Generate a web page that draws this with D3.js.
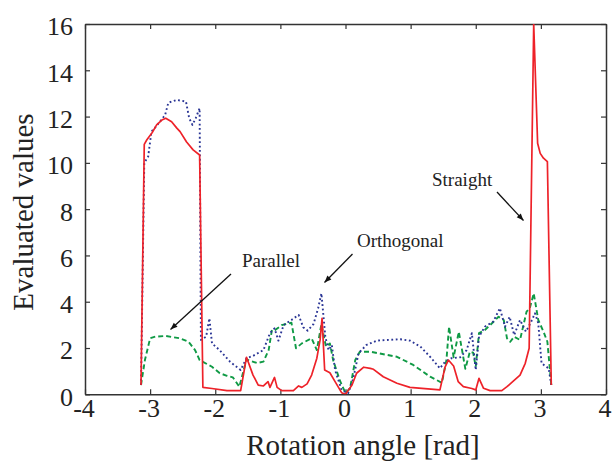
<!DOCTYPE html>
<html>
<head>
<meta charset="utf-8">
<script src="https://cdn.jsdelivr.net/npm/d3@7"></script>
<style>
html,body{margin:0;padding:0;background:#fff;}
svg{display:block;}
</style>
</head>
<body>
<svg id="chart" width="612" height="461"></svg>
<script>
// ---- data ----
const xTicks = [-4, -3, -2, -1, 0, 1, 2, 3, 4];
const yTicks = [0, 2, 4, 6, 8, 10, 12, 14, 16];

const straightX = [-3.14,-3.09,-3.05,-2.97,-2.90,-2.82,-2.76,-2.67,-2.59,-2.54,-2.44,-2.34,-2.24,-2.19,-2.05,-1.82,-1.61,-1.52,-1.42,-1.34,-1.26,-1.19,-1.16,-1.09,-1.05,-0.98,-0.80,-0.72,-0.67,-0.59,-0.52,-0.44,-0.39,-0.36,-0.32,-0.24,-0.16,-0.06,0.00,0.10,0.17,0.28,0.38,0.43,0.58,0.79,0.99,1.45,1.53,1.58,1.66,1.73,1.81,1.94,2.00,2.05,2.12,2.22,2.40,2.48,2.55,2.68,2.76,2.82,2.89,2.95,2.99,3.04,3.10,3.16];
const straightY = [0.4,10.8,11.0,11.3,11.64,11.85,11.93,11.78,11.5,11.35,10.9,10.56,10.34,0.3,0.25,0.16,0.16,1.6,0.83,0.4,0.36,0.55,0.3,0.73,0.3,0.16,0.16,0.36,0.3,0.45,0.83,1.56,2.35,3.28,1.05,0.93,0.55,0.07,0.0,0.4,0.91,1.17,1.12,1.08,0.76,0.48,0.3,0.19,1.19,1.48,1.22,0.55,0.33,0.25,0.19,0.69,0.26,0.16,0.16,0.33,0.5,0.83,1.34,1.99,16,10.85,10.41,10.2,10.05,0.4];

const parallelX = [-3.14,-3.08,-3.00,-2.92,-2.76,-2.54,-2.41,-2.31,-2.24,-2.05,-1.93,-1.82,-1.73,-1.63,-1.52,-1.36,-1.26,-1.18,-1.13,-1.08,-0.98,-0.83,-0.76,-0.67,-0.52,-0.44,-0.37,-0.30,-0.24,-0.19,-0.09,0.00,0.07,0.15,0.22,0.38,0.79,1.04,1.30,1.48,1.55,1.59,1.66,1.74,1.84,1.91,1.96,2.00,2.05,2.14,2.22,2.35,2.43,2.48,2.53,2.59,2.68,2.78,2.83,2.89,2.96,3.04,3.10,3.16];
const parallelY = [0.4,1.48,2.42,2.49,2.52,2.42,2.27,1.91,1.48,1.19,0.91,0.8,0.73,0.33,1.51,1.35,1.41,1.91,2.78,2.78,2.99,3.09,1.99,2.2,2.42,1.91,3.04,2.06,2.2,1.48,0.62,0.05,0.26,1.48,1.84,1.84,1.62,1.27,0.76,0.5,1.48,2.92,1.6,2.7,1.1,1.84,1.8,1.19,2.64,2.78,2.99,3.35,3.21,2.42,2.27,2.49,2.35,3.57,3.72,4.36,3.21,2.71,2.27,0.4];

const orthogonalX = [-3.14,-3.09,-3.03,-2.98,-2.90,-2.77,-2.72,-2.59,-2.45,-2.40,-2.35,-2.30,-2.24,-2.22,-2.14,-2.09,-2.05,-1.93,-1.77,-1.61,-1.52,-1.42,-1.26,-1.16,-1.09,-1.03,-0.95,-0.83,-0.72,-0.65,-0.58,-0.49,-0.42,-0.37,-0.31,-0.26,-0.21,-0.16,-0.06,0.04,0.12,0.20,0.32,0.48,0.84,0.99,1.15,1.30,1.45,1.53,1.63,1.76,1.86,1.94,2.00,2.05,2.14,2.27,2.37,2.45,2.52,2.59,2.68,2.77,2.84,2.91,2.96,3.01,3.12,3.16];
const orthogonalY = [0.4,10.0,10.27,11.35,11.6,12.07,12.6,12.72,12.65,11.93,11.64,11.93,12.36,2.35,2.49,3.28,2.2,1.9,1.4,1.05,1.56,1.66,1.91,2.64,2.85,2.32,2.99,3.21,3.43,2.9,2.75,3.04,3.72,4.36,2.49,1.91,2.13,1.05,0.19,0.04,0.69,1.77,2.13,2.32,2.38,2.32,2.06,1.62,1.12,1.41,1.56,1.6,1.91,2.64,1.05,2.49,2.92,3.14,3.72,2.92,3.35,2.56,3.21,2.71,3.07,3.5,3.07,1.34,1.12,0.4];

const labels = ["Parallel", "Orthogonal", "Straight"];

// ---- layout ----
const L = 85, R = 606, T = 24, B = 394.3;
const FONT = "Liberation Serif";
const svg = d3.select("#chart");
const x = d3.scaleLinear().domain([-4, 4]).range([L, R]);
const y = d3.scaleLinear().domain([0, 16]).range([B, T]);

const defs = svg.append("defs");
defs.append("clipPath").attr("id", "clip").append("rect")
  .attr("x", L).attr("y", T).attr("width", R - L).attr("height", B - T);
defs.append("marker").attr("id", "arrow").attr("viewBox", "0 0 10 10")
  .attr("refX", 10).attr("refY", 5).attr("markerWidth", 9).attr("markerHeight", 7)
  .attr("markerUnits", "userSpaceOnUse").attr("orient", "auto")
  .append("path").attr("d", "M0,1 L10,5 L0,9 Z").attr("fill", "#111");

// axes
const axColor = "#333";
const fmt = d => String(d);
function styleAxis(g) {
  g.attr("font-family", FONT).attr("font-size", 26);
  g.select(".domain").attr("stroke", axColor).attr("stroke-width", 1.5);
  g.selectAll(".tick line").attr("stroke", axColor).attr("stroke-width", 1.2);
  g.selectAll("text").attr("fill", "#222");
}
svg.append("g").attr("transform", `translate(0,${B})`)
  .call(d3.axisBottom(x).tickValues(xTicks).tickSizeInner(-5).tickSizeOuter(0).tickPadding(4).tickFormat(fmt))
  .call(styleAxis).call(g => g.selectAll("text").attr("dx", -1.5));
svg.append("g").attr("transform", `translate(0,${T})`)
  .call(d3.axisTop(x).tickValues(xTicks).tickSizeInner(-5).tickSizeOuter(0).tickFormat(""))
  .call(styleAxis);
svg.append("g").attr("transform", `translate(${L},0)`)
  .call(d3.axisLeft(y).tickValues(yTicks).tickSizeInner(-5).tickSizeOuter(0).tickPadding(12).tickFormat(fmt))
  .call(styleAxis).call(g => g.selectAll("text").attr("dy", "0.42em"));
svg.append("g").attr("transform", `translate(${R},0)`)
  .call(d3.axisRight(y).tickValues(yTicks).tickSizeInner(-5).tickSizeOuter(0).tickFormat(""))
  .call(styleAxis);

// series
const line = d3.line().x(d => x(d[0])).y(d => y(d[1]));
const plot = svg.append("g").attr("clip-path", "url(#clip)");
function series(xs, ys, color, dash, w) {
  plot.append("path").datum(d3.zip(xs, ys)).attr("d", line)
    .attr("fill", "none").attr("stroke", color).attr("stroke-width", w)
    .attr("stroke-dasharray", dash).attr("stroke-linejoin", "round");
}
series(parallelX, parallelY, "#0f9a45", "5,3", 1.9);
series(orthogonalX, orthogonalY, "#2a3595", "1.8,2.6", 1.9);
series(straightX, straightY, "#ee2229", null, 1.7);

// annotations
const ann = [
  {t: labels[0], tx: 242, ty: 267, x1: 231, y1: 274, x2: 170.5, y2: 329.5},
  {t: labels[1], tx: 357, ty: 247, x1: 352.5, y1: 254, x2: 324.5, y2: 282.5},
  {t: labels[2], tx: 432, ty: 186, x1: 497, y1: 192, x2: 523.5, y2: 220.5}
];
ann.forEach(a => {
  svg.append("text").attr("x", a.tx).attr("y", a.ty).text(a.t)
    .attr("font-family", FONT).attr("font-size", 19).attr("fill", "#222");
  svg.append("line").attr("x1", a.x1).attr("y1", a.y1).attr("x2", a.x2).attr("y2", a.y2)
    .attr("stroke", "#111").attr("stroke-width", 1.3).attr("marker-end", "url(#arrow)");
});

// axis titles
svg.append("text").attr("x", 363).attr("y", 455).attr("text-anchor", "middle")
  .attr("font-family", FONT).attr("font-size", 29).attr("fill", "#222").text("Rotation angle [rad]");
svg.append("text").attr("transform", "translate(33,212) rotate(-90)").attr("text-anchor", "middle")
  .attr("font-family", FONT).attr("font-size", 29).attr("fill", "#222").text("Evaluated values");
</script>
</body>
</html>
